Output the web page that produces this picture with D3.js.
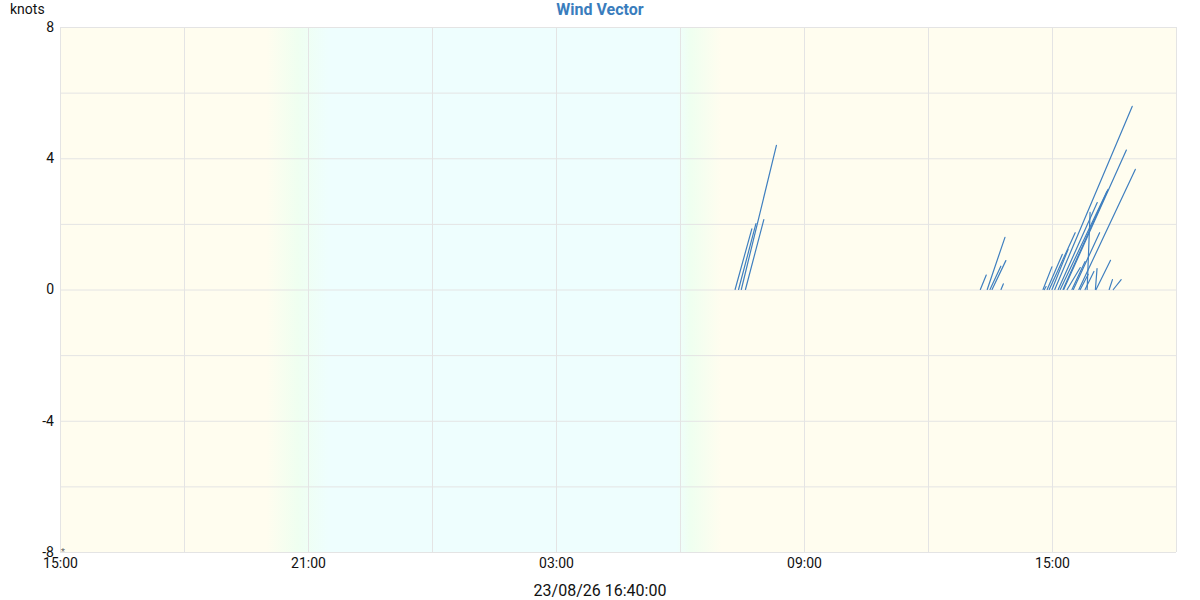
<!DOCTYPE html>
<html>
<head>
<meta charset="utf-8">
<script src="https://cdn.jsdelivr.net/npm/d3@7"></script>
<style>
  html, body { margin: 0; padding: 0; background: #ffffff; }
  svg { display: block; font-family: Roboto, "Noto Sans", sans-serif; }
</style>
</head>
<body>
<svg id="chart" width="1200" height="600"></svg>
<script>
// ---------- data ----------
const timeDomain = ["2023-08-25T15:00:00Z", "2023-08-26T18:00:00Z"];
const xTickLabelTimes = ["2023-08-25T15:00:00Z", "2023-08-25T21:00:00Z", "2023-08-26T03:00:00Z",
                         "2023-08-26T09:00:00Z", "2023-08-26T15:00:00Z"];
const yDomain = [-8, 8];
const yTickLabels = [-8, -4, 0, 4, 8];
const yGridValues = [-8, -6, -4, -2, 0, 2, 4, 6, 8];

// twilight shading times (sunset / sunrise transitions)
const shadeTimes = ["2023-08-25T20:00:00Z", "2023-08-25T20:45:00Z", "2023-08-25T21:30:00Z",
                    "2023-08-26T05:55:00Z", "2023-08-26T06:15:00Z", "2023-08-26T07:00:00Z"];
const shadePhase = ["day", "twilight", "night", "night", "twilight", "day"];

// wind vectors: base time, east component (knots), north component (knots)
const vecTimes = [
  "2023-08-26T07:20:00Z", "2023-08-26T07:25:00Z", "2023-08-26T07:29:00Z", "2023-08-26T07:35:00Z",
  "2023-08-26T13:16:00Z", "2023-08-26T13:26:00Z", "2023-08-26T13:30:00Z", "2023-08-26T13:33:00Z",
  "2023-08-26T13:46:00Z",
  "2023-08-26T14:47:00Z", "2023-08-26T14:49:00Z", "2023-08-26T14:53:00Z", "2023-08-26T14:56:00Z",
  "2023-08-26T15:00:00Z", "2023-08-26T15:04:00Z", "2023-08-26T15:09:00Z", "2023-08-26T15:12:00Z",
  "2023-08-26T15:16:00Z", "2023-08-26T15:17:00Z", "2023-08-26T15:22:00Z", "2023-08-26T15:29:00Z",
  "2023-08-26T15:31:00Z", "2023-08-26T15:39:00Z", "2023-08-26T15:41:00Z", "2023-08-26T15:48:00Z",
  "2023-08-26T15:51:00Z", "2023-08-26T16:03:00Z", "2023-08-26T16:04:00Z", "2023-08-26T16:23:00Z",
  "2023-08-26T16:29:00Z"
];
const vecU = [
  0.51, 0.53, 1.07, 0.56,
  0.18, 0.54, 0.33, 0.42,
  0.07,
  0.27, 0.05, 0.46, 0.79,
  0.49, 2.36, 1.19, 1.42,
  1.37, 1.91, 0.40, 0.40,
  0.80, 1.72, 0.24, 0.27,
  0.09, 0.05, 0.44, 0.10,
  0.24
];
const vecV = [
  1.85, 2.01, 4.39, 2.13,
  0.44, 1.59, 0.71, 0.88,
  0.17,
  0.69, 0.09, 1.07, 1.73,
  1.22, 5.58, 2.65, 2.99,
  3.05, 4.25, 0.67, 0.85,
  1.73, 3.66, 0.46, 0.55,
  2.35, 0.64, 0.89, 0.30,
  0.30
];

const titleText = "Wind Vector";
const unitText = "knots";
const footerText = "23/08/26 16:40:00";

// ---------- layout ----------
const W = 1200, H = 600;
const margin = { left: 60, right: 24, top: 27, bottom: 48 };
const plotW = W - margin.left - margin.right;
const plotH = H - margin.top - margin.bottom;

const phaseColor = { day: "#fffdef", twilight: "#effff0", night: "#eefefe" };

const svg = d3.select("#chart");
const parse = d3.isoParse;

const x = d3.scaleUtc().domain(timeDomain.map(parse)).range([margin.left, margin.left + plotW]);
const y = d3.scaleLinear().domain(yDomain).range([margin.top + plotH, margin.top]);

// background shading gradient
const defs = svg.append("defs");
const grad = defs.append("linearGradient")
  .attr("id", "shade")
  .attr("gradientUnits", "userSpaceOnUse")
  .attr("x1", x.range()[0]).attr("x2", x.range()[1])
  .attr("y1", 0).attr("y2", 0);
const span = x.range()[1] - x.range()[0];
grad.append("stop").attr("offset", 0).attr("stop-color", phaseColor.day);
shadeTimes.forEach((t, i) => {
  grad.append("stop")
    .attr("offset", (x(parse(t)) - x.range()[0]) / span)
    .attr("stop-color", phaseColor[shadePhase[i]]);
});
grad.append("stop").attr("offset", 1).attr("stop-color", phaseColor.day);

svg.append("rect")
  .attr("x", x.range()[0]).attr("y", y.range()[1])
  .attr("width", span).attr("height", y.range()[0] - y.range()[1])
  .attr("fill", "url(#shade)");

// grid
const gridColor = "#e4e4e4";
const gGrid = svg.append("g");
gGrid.selectAll("line.h").data(yGridValues).join("line")
  .attr("x1", x.range()[0]).attr("x2", x.range()[1])
  .attr("y1", d => y(d) + 0.5).attr("y2", d => y(d) + 0.5)
  .attr("stroke", gridColor).attr("stroke-width", 1);
const xGridTicks = d3.utcHour.every(3).range(x.domain()[0], new Date(+x.domain()[1] + 1));
gGrid.selectAll("line.v").data(xGridTicks).join("line")
  .attr("x1", d => Math.round(x(d)) + 0.5).attr("x2", d => Math.round(x(d)) + 0.5)
  .attr("y1", y.range()[1]).attr("y2", y.range()[0])
  .attr("stroke", gridColor).attr("stroke-width", 1);

// y axis labels
const yAxis = d3.axisLeft(y).tickValues(yTickLabels).tickSize(0).tickPadding(6)
  .tickFormat(d => String(d));
const gy = svg.append("g").attr("transform", `translate(${margin.left},0)`).call(yAxis);
gy.select(".domain").remove();
gy.selectAll("text").attr("font-size", 14).attr("fill", "#111").attr("font-family", "Roboto, sans-serif");

// x axis labels
const xAxis = d3.axisBottom(x).tickValues(xTickLabelTimes.map(parse)).tickSize(0).tickPadding(6)
  .tickFormat(d3.utcFormat("%H:%M"));
const gx = svg.append("g").attr("transform", `translate(0,${y.range()[0]})`).call(xAxis);
gx.select(".domain").remove();
gx.selectAll("text").attr("font-size", 14).attr("fill", "#111").attr("font-family", "Roboto, sans-serif");

// small marker at origin corner
svg.append("text").attr("x", x.range()[0] + 1).attr("y", y.range()[0] + 3)
  .attr("font-size", 9).attr("fill", "#666").text("*");

// wind vectors (components drawn with the y scale's knots-to-pixels ratio)
const pxPerKnot = y(0) - y(1);
const vectors = vecTimes.map((t, i) => ({ t: parse(t), u: vecU[i], v: vecV[i] }));
svg.append("g").selectAll("line").data(vectors).join("line")
  .attr("x1", d => x(d.t)).attr("y1", y(0))
  .attr("x2", d => x(d.t) + d.u * pxPerKnot).attr("y2", d => y(d.v))
  .attr("stroke", "#3f7fbf").attr("stroke-width", 1.2)
  .attr("stroke-linecap", "round");

// texts
svg.append("text").attr("x", W / 2).attr("y", 15).attr("text-anchor", "middle")
  .attr("font-size", 16).attr("font-weight", "bold").attr("fill", "#3a7dbd")
  .text(titleText);
svg.append("text").attr("x", 10).attr("y", 14)
  .attr("font-size", 14).attr("fill", "#111").text(unitText);
svg.append("text").attr("x", W / 2).attr("y", 596).attr("text-anchor", "middle")
  .attr("font-size", 16).attr("fill", "#111").text(footerText);
</script>
</body>
</html>
